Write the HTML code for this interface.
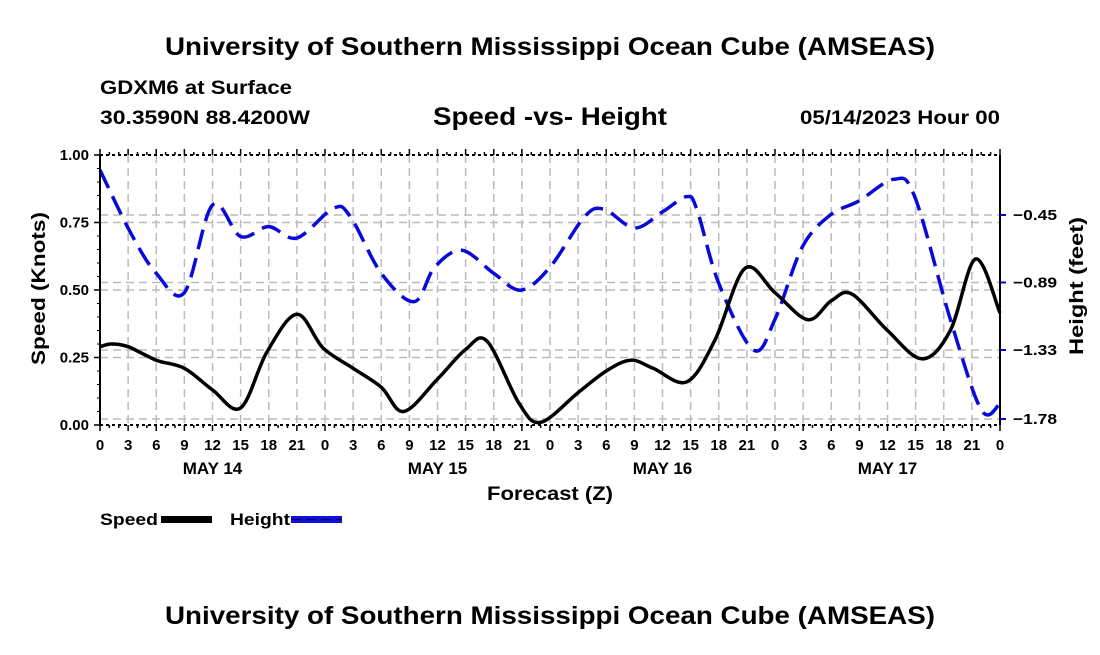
<!DOCTYPE html>
<html><head><meta charset="utf-8"><style>
body{margin:0;background:#fff;width:1100px;height:650px;overflow:hidden}
svg text{font-family:"Liberation Sans",sans-serif;font-weight:bold;fill:#000}
</style></head><body>
<svg id="chart" width="1100" height="650" viewBox="0 0 1100 650">
<text x="165" y="55" font-size="25" textLength="770" lengthAdjust="spacingAndGlyphs">University of Southern Mississippi Ocean Cube (AMSEAS)</text>
<text x="100" y="94" font-size="19" textLength="192" lengthAdjust="spacingAndGlyphs">GDXM6 at Surface</text>
<text x="100" y="124" font-size="19" textLength="210" lengthAdjust="spacingAndGlyphs">30.3590N  88.4200W</text>
<text x="433" y="125" font-size="25" textLength="234" lengthAdjust="spacingAndGlyphs">Speed -vs- Height</text>
<text x="800" y="124" font-size="19" textLength="200" lengthAdjust="spacingAndGlyphs">05/14/2023 Hour 00</text>
<g id="grid"></g>
<g id="series"></g>
<g id="axes"></g>
<text transform="translate(45,365) rotate(-90)" font-size="19" textLength="153" lengthAdjust="spacingAndGlyphs">Speed (Knots)</text>
<text transform="translate(1083,355) rotate(-90)" font-size="19" textLength="138" lengthAdjust="spacingAndGlyphs">Height (feet)</text>
<text x="487" y="500" font-size="19" textLength="126" lengthAdjust="spacingAndGlyphs">Forecast (Z)</text>
<g>
<text x="100" y="525" font-size="17" textLength="58" lengthAdjust="spacingAndGlyphs">Speed</text>
<rect x="161" y="516" width="51" height="7" fill="#000"/>
</g>
<g>
<text x="230" y="525" font-size="17" textLength="60" lengthAdjust="spacingAndGlyphs">Height</text>
<rect x="291" y="516" width="51" height="7" fill="#1010d8"/>
<line x1="291" y1="519.5" x2="342" y2="519.5" stroke="#000060" stroke-width="1" stroke-dasharray="10,5"/>
</g>
<text x="165" y="624" font-size="25" textLength="770" lengthAdjust="spacingAndGlyphs">University of Southern Mississippi Ocean Cube (AMSEAS)</text>
</svg>
<script>
const speedHours=[0,1.2,3,6,9,12,15,17.8,21,23.8,27,30,32.4,36,39,41.3,44.7,47,51,54,56.6,59,62.6,65.6,68.8,72,75.5,78,80.2,84,87.7,90.7,93.4,96];
const speedValues=[0.29,0.30,0.29,0.24,0.21,0.13,0.063,0.27,0.41,0.285,0.21,0.14,0.05,0.17,0.28,0.31,0.08,0.01,0.12,0.20,0.24,0.21,0.16,0.315,0.58,0.49,0.39,0.46,0.485,0.35,0.245,0.35,0.615,0.415];
const heightHours=[0,3.3,6,9,12,15,18,21,24.9,26.7,30,33.5,35.7,38.6,42,44.9,48,51.7,53.8,57,60,62.6,63.7,66,69.7,72,74.9,77.9,80.9,84.7,86.9,90.7,94,96];
const heightValues=[-0.157,-0.57,-0.83,-0.956,-0.385,-0.59,-0.526,-0.60,-0.406,-0.46,-0.83,-1.015,-0.79,-0.68,-0.83,-0.94,-0.79,-0.46,-0.413,-0.535,-0.43,-0.33,-0.42,-0.895,-1.33,-1.13,-0.66,-0.45,-0.36,-0.217,-0.33,-1.13,-1.72,-1.68];
const speedTicks=["0.00","0.25","0.50","0.75","1.00"];
const heightTicks=["-0.45","-0.89","-1.33","-1.78"];
const hourLabels=["0","3","6","9","12","15","18","21"];
const dayLabels=["MAY 14","MAY 15","MAY 16","MAY 17"];

const X0=100,X1=1000,Y0=425,Y1=155;
const xS=h=>X0+h*(X1-X0)/96;
const yS=v=>Y0-v*(Y0-Y1);
const yH=f=>215+(-0.45-f)*153.4;
const NS="http://www.w3.org/2000/svg";
function mk(parent,tag,attrs){const e=document.createElementNS(NS,tag);for(const k in attrs)e.setAttribute(k,attrs[k]);parent.appendChild(e);return e;}
const grid=document.getElementById('grid'),axes=document.getElementById('axes'),series=document.getElementById('series');
const gs={stroke:"#bbb","stroke-width":1.5,"stroke-dasharray":"8,5"};
for(let h=3;h<96;h+=3){const l=mk(grid,'line',Object.assign({x1:xS(h),x2:xS(h),y1:Y1,y2:Y0},gs));

}
speedTicks.forEach(t=>{const v=parseFloat(t);if(v>0&&v<1){const l=mk(grid,'line',Object.assign({x1:X0,x2:X1,y1:yS(v),y2:yS(v)},gs));

}});
heightTicks.forEach(t=>{const v=parseFloat(t);const l=mk(grid,'line',Object.assign({x1:X0,x2:X1,y1:yH(v),y2:yH(v)},gs));

});
function smooth(pts){let d=`M${pts[0][0]},${pts[0][1]}`;for(let i=0;i<pts.length-1;i++){const p0=pts[Math.max(i-1,0)],p1=pts[i],p2=pts[i+1],p3=pts[Math.min(i+2,pts.length-1)];
const c1=[p1[0]+(p2[0]-p0[0])/6,p1[1]+(p2[1]-p0[1])/6],c2=[p2[0]-(p3[0]-p1[0])/6,p2[1]-(p3[1]-p1[1])/6];
d+=` C${c1[0]},${c1[1]} ${c2[0]},${c2[1]} ${p2[0]},${p2[1]}`;}return d;}
const hp=mk(series,'path',{d:smooth(heightHours.map((h,i)=>[xS(h),yH(heightValues[i])])),fill:"none",stroke:"#0a0ad8","stroke-width":3.5,"stroke-dasharray":"20,9"});


const sp=mk(series,'path',{d:smooth(speedHours.map((h,i)=>[xS(h),yS(speedValues[i])])),fill:"none",stroke:"#000","stroke-width":3.5});


const fr=mk(axes,'line',{x1:X0,x2:X0,y1:Y1,y2:Y0,stroke:"#000","stroke-width":2});


const fr2=mk(axes,'line',{x1:X1,x2:X1,y1:Y1,y2:Y0,stroke:"#000","stroke-width":2});


[Y1,Y0].forEach(y=>{const l=mk(axes,'line',{x1:X0,x2:X1,y1:y,y2:y,stroke:"#000","stroke-width":2,"stroke-dasharray":"3,3"});

});
for(let h=0;h<=96;h++){const len=h%3===0?6:3;
[[Y0,Y0+len],[Y1,Y1-len]].forEach(([a,b])=>{const t=mk(axes,'line',{x1:xS(h),x2:xS(h),y1:a,y2:b,stroke:"#000","stroke-width":1.5});

});}
for(let d=0;d<4;d++){hourLabels.forEach((lab,i)=>{const t=mk(axes,'text',{x:xS(d*24+i*3),y:450,"font-size":15,"text-anchor":"middle"});t.textContent=lab;

});
const dl=mk(axes,'text',{x:xS(d*24+12),y:474,"font-size":17,"text-anchor":"middle"});dl.textContent=dayLabels[d];

}
const lt=mk(axes,'text',{x:xS(96),y:450,"font-size":15,"text-anchor":"middle"});lt.textContent="0";


speedTicks.forEach(t=>{const v=parseFloat(t);const l=mk(axes,'line',{x1:X0-6,x2:X0,y1:yS(v),y2:yS(v),stroke:"#000","stroke-width":1.5});


const tx=mk(axes,'text',{x:X0-11,y:yS(v)+5,"font-size":15,"text-anchor":"end"});tx.textContent=t;

});
for(let v=0.05;v<1;v+=0.05){const l=mk(axes,'line',{x1:X0-3,x2:X0,y1:yS(v),y2:yS(v),stroke:"#000","stroke-width":1});

}
heightTicks.forEach(t=>{const v=parseFloat(t);const l=mk(axes,'line',{x1:X1,x2:X1+6,y1:yH(v),y2:yH(v),stroke:"#00c","stroke-width":2});


const tx=mk(axes,'text',{x:X1+13,y:yH(v)+5,"font-size":15,textLength:44,lengthAdjust:"spacingAndGlyphs"});tx.textContent=t.replace('-','\u2212');

});
</script>
</body></html>
